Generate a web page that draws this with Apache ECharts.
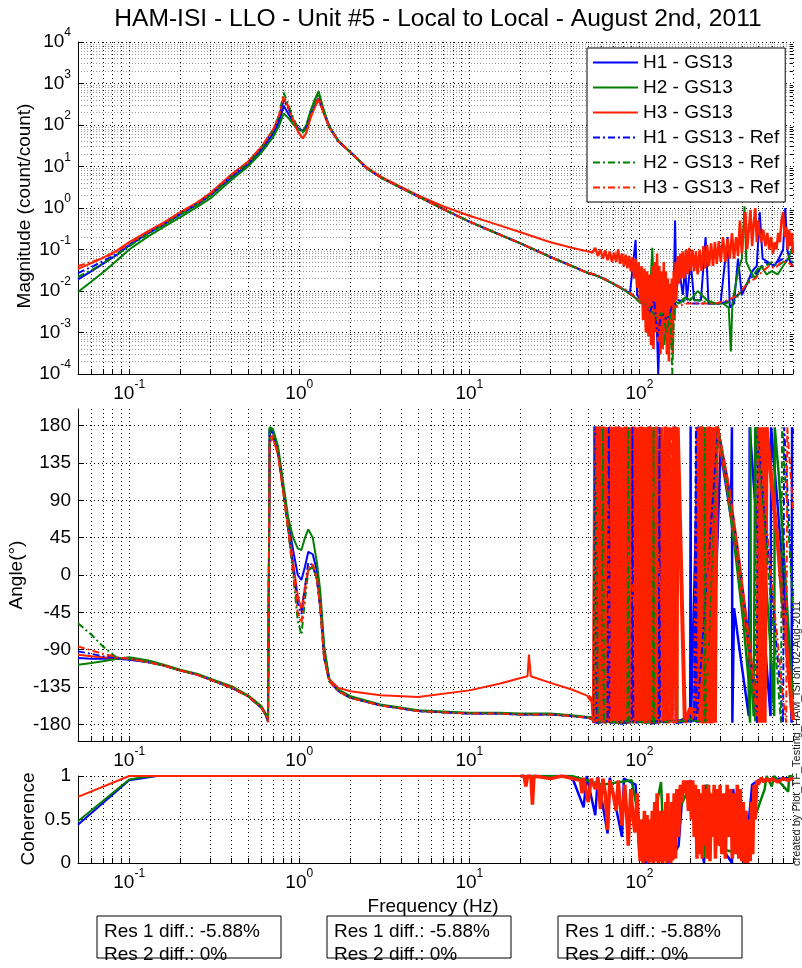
<!DOCTYPE html>
<html>
<head>
<meta charset="utf-8">
<title>HAM-ISI - LLO - Unit #5 - Local to Local</title>
<script src="https://cdn.jsdelivr.net/npm/echarts@6/dist/echarts.min.js"></script>
<style>
  html, body { margin: 0; padding: 0; background: #fff; }
  #chart { width: 802px; height: 968px; }
</style>
</head>
<body>
<div id="chart"></div>
<script>
// ---- data ----
const seriesNames = ["H1 - GS13", "H2 - GS13", "H3 - GS13", "H1 - GS13 - Ref", "H2 - GS13 - Ref", "H3 - GS13 - Ref"];

const xMajorTicks = [0.1, 1, 10, 100];
const magMajorTicks = [1e-4, 1e-3, 1e-2, 1e-1, 1, 10, 100, 1000, 1e4];
const phaseTicks = [-180, -135, -90, -45, 0, 45, 90, 135, 180];
const cohTicks = [0, 0.5, 1];
const minorSteps = [1, 2, 3, 4, 5, 6, 7, 8, 9];

// magnitude, smooth part (count/count)
const freqMag = [0.05, 0.06, 0.07, 0.085, 0.1, 0.13, 0.16, 0.2, 0.25, 0.3, 0.4, 0.5, 0.6, 0.7, 0.76, 0.81, 0.86, 0.92, 0.98, 1.05, 1.1, 1.16, 1.23, 1.3, 1.38, 1.5, 1.7, 2, 2.5, 3, 4, 5, 7, 10, 14, 20, 30, 40, 50];
const magH1 = [0.019, 0.03, 0.045, 0.075, 0.125, 0.25, 0.4, 0.7, 1.2, 2.0, 5.5, 11, 25, 60, 120, 290, 190, 120, 85, 72, 90, 170, 280, 420, 220, 90, 40, 22, 9, 5.5, 3.0, 1.9, 0.95, 0.47, 0.26, 0.14, 0.066, 0.04, 0.027];
const magH2 = [0.0095, 0.017, 0.028, 0.055, 0.1, 0.21, 0.35, 0.6, 1.05, 1.7, 4.8, 10, 22, 50, 95, 190, 150, 105, 80, 72, 100, 210, 400, 650, 260, 95, 42, 22, 9, 5.5, 3.0, 1.9, 0.95, 0.47, 0.26, 0.14, 0.066, 0.04, 0.027];
const magH3 = [0.034, 0.047, 0.063, 0.095, 0.15, 0.28, 0.45, 0.8, 1.35, 2.3, 6.5, 13, 30, 75, 160, 430, 280, 130, 70, 47, 65, 140, 260, 400, 210, 88, 40, 22, 9.5, 5.8, 3.2, 2.0, 1.1, 0.65, 0.42, 0.26, 0.15, 0.11, 0.09];
const magH1Ref = [0.027, 0.038, 0.052, 0.08, 0.13, 0.25, 0.41, 0.72, 1.25, 2.1, 6, 12, 28, 70, 150, 400, 260, 140, 85, 70, 85, 170, 300, 480, 230, 90, 40, 22, 9, 5.5, 3.0, 1.9, 0.95, 0.47, 0.26, 0.14, 0.066, 0.04, 0.027];
const magH2Ref = [0.022, 0.032, 0.046, 0.075, 0.12, 0.24, 0.4, 0.7, 1.2, 2.0, 5.8, 12, 28, 72, 170, 600, 320, 150, 85, 65, 85, 190, 350, 580, 250, 92, 41, 22, 9, 5.5, 3.0, 1.9, 0.95, 0.47, 0.26, 0.14, 0.066, 0.04, 0.027];
const magH3Ref = [0.04, 0.05, 0.062, 0.09, 0.14, 0.27, 0.43, 0.78, 1.3, 2.2, 6.3, 13, 30, 75, 170, 500, 290, 135, 72, 48, 66, 150, 280, 450, 220, 90, 40, 22, 9, 5.5, 3.0, 1.9, 0.95, 0.47, 0.26, 0.14, 0.066, 0.04, 0.027];

// magnitude, noisy part [Hz, value]
const magNoiseH1 = [[55,0.024],[60,0.021],[66,0.017],[72,0.014],[80,0.011],[88,0.009],[95,0.17],[97,0.008],[103,0.006],[108,0.012],[112,0.004],[117,0.02],[121,0.002],[125,0.008],[129,0.0001],[133,0.003],[138,0.009],[143,0.0007],[148,0.004],[154,0.012],[159,0.006],[162,0.5],[165,0.01],[172,0.03],[180,0.008],[186,0.04],[190,0.006],[200,0.05],[210,0.006],[230,0.006],[245,0.2],[255,0.005],[275,0.005],[300,0.005],[330,0.2],[340,0.004],[360,0.005],[380,0.06],[400,0.008],[430,0.015],[460,0.03],[490,0.04],[510,0.8],[530,0.06],[570,0.05],[620,0.04],[660,0.06],[700,0.1],[720,1.0],[740,0.1],[770,0.05],[800,0.04]];
const magNoiseH2 = [[55,0.024],[62,0.019],[70,0.015],[78,0.012],[86,0.009],[94,0.007],[102,0.005],[108,0.008],[114,0.003],[119,0.11],[123,0.003],[128,0.0009],[134,0.004],[140,0.0005],[146,0.002],[152,0.004],[160,0.006],[170,0.005],[185,0.007],[200,0.006],[220,0.01],[250,0.006],[280,0.005],[310,0.005],[335,0.004],[345,0.00035],[352,0.005],[380,0.03],[400,0.06],[415,1.1],[425,0.05],[450,0.03],[480,0.02],[520,0.04],[560,0.025],[600,0.03],[650,0.025],[700,0.04],[750,0.06],[800,0.12]];
const magNoiseH3 = [[53,0.085],[55,0.11],[57,0.07],[59,0.1],[61,0.06],[63,0.095],[65,0.055],[67,0.09],[69,0.05],[71,0.085],[73,0.05],[75,0.1],[77,0.045],[79,0.08],[81,0.04],[83,0.075],[85,0.035],[87,0.07],[89,0.03],[91,0.065],[93,0.02],[95,0.06],[97,0.012],[99,0.05],
  [101,0.005],[103,0.04],[105,0.002],[107,0.035],[109,0.001],[111,0.03],[113,0.0008],[115,0.025],[117,0.0005],[119,0.04],[121,0.0004],[123,0.05],[125,0.001],[127,0.08],[129,0.0006],[131,0.04],[133,0.0003],[135,0.03],[137,0.0004],[139,0.05],[141,0.001],[143,0.03],[145,0.0003],[147,0.02],[149,0.0002],[151,0.015],[153,0.0005],[155,0.02],[157,0.0003],[159,0.03],[161,0.002],[163,0.05],[165,0.006],
  [168,0.07],[171,0.015],[174,0.08],[177,0.02],[180,0.09],[184,0.02],[188,0.1],[192,0.025],[196,0.11],[200,0.03],[205,0.1],[210,0.03],[215,0.09],[220,0.025],[226,0.1],[232,0.03],[238,0.12],[244,0.035],[250,0.13],[257,0.04],[264,0.14],[271,0.04],[278,0.15],[285,0.045],[293,0.16],[301,0.05],[310,0.2],[320,0.05],[330,0.18],[340,0.06],[350,0.25],[360,0.06],[370,0.2],[380,0.07],[390,0.5],[400,0.08],[410,0.3],[420,0.8],[430,0.1],[440,0.3],[450,0.9],[460,0.12],[470,0.4],[480,1.0],[490,0.15],[500,0.5],[510,0.25],[520,0.15],[535,0.3],[550,0.12],[565,0.25],[580,0.1],[595,0.2],[610,0.08],[625,0.15],[640,0.1],[655,0.25],[670,0.15],[685,0.5],[700,0.8],[715,0.2],[730,0.35],[745,0.1],[760,0.3],[775,0.12],[790,0.25],[800,0.08]];
const magNoiseH1Ref = [[55,0.025],[65,0.018],[75,0.013],[85,0.01],[95,0.007],[105,0.005],[115,0.003],[122,0.006],[128,0.0008],[135,0.003],[145,0.002],[155,0.004],[170,0.006],[200,0.005],[250,0.005],[300,0.005],[350,0.006],[400,0.01],[450,0.02],[500,0.03],[550,0.05],[600,0.04],[650,0.05],[700,0.06],[750,0.05],[800,0.05]];
const magNoiseH2Ref = [[55,0.025],[65,0.018],[75,0.013],[85,0.01],[95,0.007],[105,0.005],[115,0.004],[125,0.002],[135,0.003],[145,0.001],[152,0.003],[156,0.0001],[160,0.004],[180,0.006],[220,0.006],[270,0.005],[320,0.005],[360,0.006],[400,0.01],[450,0.02],[500,0.035],[550,0.04],[600,0.05],[650,0.04],[700,0.05],[750,0.06],[800,0.05]];
const magNoiseH3Ref = [[55,0.025],[65,0.018],[75,0.013],[85,0.01],[95,0.007],[105,0.005],[115,0.003],[125,0.002],[135,0.002],[145,0.003],[160,0.004],[190,0.005],[230,0.005],[280,0.005],[330,0.006],[380,0.008],[430,0.015],[480,0.02],[530,0.03],[580,0.04],[630,0.035],[680,0.05],[740,0.05],[800,0.04]];

// phase, smooth part (degrees)
const freqPh = [0.05, 0.06, 0.07, 0.085, 0.1, 0.13, 0.16, 0.2, 0.25, 0.3, 0.4, 0.5, 0.6, 0.64, 0.655, 0.67, 0.7, 0.75, 0.8, 0.86, 0.92, 0.98, 1.03, 1.08, 1.13, 1.2, 1.27, 1.33, 1.4, 1.5, 1.7, 2, 3, 5, 10, 15, 20, 22, 22.4, 23, 30, 40, 50];
const phH1 = [-100, -101, -101, -101, -102, -105, -109, -115, -120, -126, -136, -146, -160, -170, -177, 176, 172, 150, 108, 65, 30, 0, -6, 10, 28, 25, 5, -30, -90, -125, -140, -148, -157, -164, -167, -167, -168, -168, -168, -168, -168, -170, -172];
const phH2 = [-108, -106, -104, -101, -99, -103, -108, -114, -119, -125, -134, -145, -158, -168, -176, 178, 176, 155, 115, 70, 45, 32, 30, 45, 55, 45, 15, -20, -85, -125, -138, -146, -156, -163, -166, -166, -167, -167, -167, -167, -167, -169, -171];
const phH3 = [-96, -98, -99, -100, -101, -105, -109, -115, -120, -126, -135, -146, -160, -170, -176, 160, 165, 145, 105, 60, 15, -25, -42, -15, 5, 11, -5, -40, -100, -126, -136, -140, -145, -147, -139, -131, -124, -122, -96, -122, -130, -138, -146];
const phH1Ref = [-92, -95, -98, -100, -101, -105, -109, -115, -120, -126, -136, -146, -160, -170, -177, 175, 170, 148, 105, 55, 10, -35, -47, -15, 15, 12, -5, -40, -100, -128, -140, -148, -157, -164, -167, -167, -168, -168, -168, -168, -168, -170, -172];
const phH2Ref = [-58, -72, -86, -100, -101, -105, -109, -115, -120, -126, -136, -146, -160, -170, -177, 178, 174, 152, 108, 55, 0, -55, -72, -30, 5, 10, -5, -40, -100, -128, -140, -148, -157, -164, -167, -167, -168, -168, -168, -168, -168, -170, -172];
const phH3Ref = [-86, -91, -95, -99, -101, -105, -109, -115, -120, -126, -136, -146, -160, -170, -177, 165, 168, 146, 104, 55, 5, -45, -58, -20, 8, 13, -3, -40, -100, -128, -140, -148, -157, -164, -167, -167, -168, -168, -168, -168, -168, -170, -172];

// phase, noisy part [Hz, degrees]
const phNoiseH1 = [[53,-173],[54,-178],[54.5,179],[55.2,-179],[56,178],[56.8,-178],[58,-176],[75,-174],[76,179],[77,-179],[100,-176],[116,179],[117,-179],[140,-176],[162,179],[164,-178],[199,-176],[200,179],[201,-178],[222,179],[224,-178],[262,178],[264,-177],[300,150],[345,70],[350,178],[352,-178],[360,-40],[400,-110],[440,-170],[445,178],[470,110],[500,40],[530,-40],[560,-110],[590,-170],[595,178],[640,100],[700,0],[760,-100],[785,-178],[790,178],[800,170]];
const phNoiseH2 = [[53,-172],[54,-177],[56,178],[57,-178],[58.5,179],[60,-178],[61,178],[62,-177],[70,-176],[71,178],[72,-178],[105,-176],[106,178],[107,-178],[140,-176],[165,178],[167,-178],[185,-172],[230,-176],[232,179],[234,-178],[288,178],[330,100],[370,20],[410,-60],[440,-130],[447,-178],[449,178],[452,-100],[470,-170],[480,178],[520,80],[560,-20],[600,-110],[620,-170],[625,178],[660,120],[700,40],[750,-60],[800,-150]];
const phNoiseH3 = [[53,-152],[54,-178],[55,178],[56.5,-179],[58,179],[59.5,-178],[61,179],[62.5,-179],[64,178],[65.7,-178],[67.4,179],[69,-179],[71,178],[73,-178],[75,179],[77,-179],[79,178],[81,-178],[83,179],[85,-179],[87.5,178],[90,-178],[92.5,179],[95,-179],[97.5,178],[100,-178],[102.5,179],[105,-179],[108,178],[111,-178],[114,179],[117,-179],[120,178],[123,-178],[126,179],[130,-179],[134,178],[138,-178],[142,179],[146,-179],[150,178],[155,-178],[160,179],[165,-178],[168,178],[185,-178],[200,-160],[212,-176],[220,178],[226,-178],[232,179],[238,-179],[244,178],[250,-178],[257,179],[264,-179],[271,178],[278,-178],[285,179],[292,178],[330,110],[370,40],[420,-50],[460,-120],[500,-178],[505,178],[512,-178],[520,178],[528,-178],[536,178],[545,-178],[560,178],[600,110],[650,40],[700,-40],[750,-110],[800,-175]];
const phNoiseH1Ref = [[53,-174],[54,-178],[55,179],[56,-178],[65,-176],[66,178],[67,-178],[90,-176],[91,178],[92,-178],[130,-176],[131,178],[132,-178],[170,-175],[210,-176],[215,178],[217,-178],[290,178],[350,80],[400,-10],[450,-100],[490,-178],[495,178],[540,80],[600,-20],[650,-100],[700,-178],[710,178],[760,60],[800,-30]];
const phNoiseH2Ref = [[53,-174],[54.5,-178],[55.5,179],[57,-178],[60,-176],[61,178],[62,-178],[85,-176],[86,178],[87,-178],[120,-176],[121,178],[122,-178],[160,-176],[240,-176],[242,178],[245,-178],[290,178],[340,90],[390,0],[440,-90],[480,-178],[485,178],[530,90],[580,-10],[630,-90],[680,-178],[690,178],[740,80],[800,-40]];
const phNoiseH3Ref = [[53,-174],[55,-178],[56,179],[60,-178],[64,179],[68,-178],[72,179],[110,-178],[114,179],[150,-178],[155,179],[158,-178],[200,-170],[250,-178],[252,178],[254,-178],[290,178],[340,100],[390,10],[440,-80],[490,-170],[497,178],[545,90],[600,-10],[650,-80],[700,-150],[730,-178],[740,178],[800,80]];

// coherence
const freqCoh = [0.05, 0.1, 0.12, 0.145, 1, 10, 20];
const cohH1 = [0.44, 0.95, 0.975, 1, 1, 1, 1];
const cohH2 = [0.48, 0.96, 0.985, 1, 1, 1, 1];
const cohH3 = [0.76, 1, 1, 1, 1, 1, 1];
const cohNoiseH1 = [[40,1],[47,0.64],[49,1],[55,0.55],[57,0.99],[65,0.34],[67,0.98],[79,0.3],[81,0.97],[95,0.9],[100,0.1],[110,0.0],[130,0.1],[150,0.0],[170,0.2],[180,0.85],[200,0.95],[240,0.0],[245,0.9],[300,0.2],[350,0.0],[355,0.85],[420,0.05],[460,0.9],[500,0.95],[800,0.98]];
const cohNoiseH2 = [[40,1],[60,0.9],[90,0.95],[110,0.05],[134,0.93],[140,0.05],[170,0.6],[200,0.9],[240,0.06],[250,0.9],[320,0.15],[400,0.1],[545,0.85],[560,1],[600,0.88],[620,1],[750,0.82],[760,1],[800,1]];
const cohNoiseH3 = [[21,1],[21.5,0.88],[22,1],[23,1],[23.5,0.67],[24,1],[30,0.97],[35,1],[45,0.95],[46,0.8],[47,0.98],[50,0.7],[52,0.97],[55,0.85],[57,0.98],[59,0.62],[61,0.97],[63,0.8],[65,0.38],[67,0.95],[70,0.8],[73,0.6],[75,0.95],[77,0.7],[79,0.43],[82,0.9],[84,0.6],[86,0.2],[89,0.85],[92,0.5],[94,0.35],[97,0.8],[99,0.3],
  [101,0.02],[103,0.5],[105,0.0],[107,0.6],[109,0.02],[111,0.55],[113,0.0],[115,0.5],[117,0.01],[119,0.6],[121,0.0],[123,0.7],[125,0.02],[127,0.8],[129,0.0],[131,0.6],[133,0.01],[135,0.5],[137,0.0],[139,0.6],[141,0.02],[143,0.7],[145,0.0],[147,0.8],[149,0.02],[151,0.6],[153,0.0],[155,0.7],[157,0.03],[160,0.8],[163,0.05],[166,0.85],[170,0.3],[174,0.9],[178,0.7],[182,0.95],[186,0.8],[190,0.95],[194,0.6],[198,0.95],
  [202,0.5],[206,0.95],[210,0.3],[214,0.9],[218,0.05],[222,0.85],[226,0.1],[230,0.8],[234,0.05],[238,0.9],[242,0.2],[246,0.85],[250,0.05],[255,0.9],[260,0.02],[265,0.8],[270,0.3],[275,0.9],[280,0.05],[286,0.85],[292,0.2],[298,0.9],[305,0.1],[312,0.8],[320,0.05],[328,0.9],[336,0.3],[344,0.85],[352,0.05],[360,0.8],[368,0.1],[376,0.9],[384,0.05],[392,0.85],[400,0.02],[408,0.7],[416,0.0],[424,0.6],[432,0.0],[440,0.5],[448,0.02],[456,0.7],[464,0.1],[472,0.9],[480,0.5],[490,0.95],[500,0.9],[520,0.98],[540,0.93],[560,0.97],[580,0.94],[600,0.97],[650,0.93],[700,0.97],[750,0.95],[800,0.98]];

// ---- styling ----
const FONT = "'Liberation Sans', Arial, Helvetica, sans-serif";
const colors = ["#0000ff", "#008000", "#ff2000", "#0000ff", "#008000", "#ff2000"];
const DASHDOT = [7, 3, 2, 3];
const X_MIN = 0.05, X_MAX = 800;
const left = 78, plotW = 715;
// line widths of the noisy (high frequency) parts, per series, per panel
const noiseWidthMag = [2, 2, 2.5, 2, 2, 2];
const noiseWidthPh = [2.5, 2.5, 4, 2, 2, 2];
const noiseWidthCoh = [2.5, 2.5, 3.5];

const xAllTicks = [];
[0.01, 0.1, 1, 10, 100].forEach(d => minorSteps.forEach(m => {
  const v = +(d * m).toPrecision(3);
  if (v >= X_MIN && v <= X_MAX) xAllTicks.push(v);
}));
const magMinorTicks = [];
magMajorTicks.slice(0, -1).forEach(d => minorSteps.slice(1).forEach(m => magMinorTicks.push(+(d * m).toPrecision(3))));

const supLabel = v => "{b|10}{s|" + Math.round(Math.log10(v)) + "}";
const supRich = {
  b: { fontSize: 19, fontFamily: FONT, color: "#000", lineHeight: 30, verticalAlign: "middle" },
  s: { fontSize: 12, fontFamily: FONT, color: "#000", lineHeight: 13, verticalAlign: "top" }
};
const dotted = { type: [1, 3], color: "#000", width: 1 };

function xAxisFor(gridIndex) {
  return {
    type: "log", logBase: 10, gridIndex, min: X_MIN, max: X_MAX,
    axisLine: { show: true, onZero: false, lineStyle: { color: "#000", width: 1 } },
    axisTick: { show: true, inside: true, length: 5, customValues: xAllTicks, lineStyle: { color: "#000" } },
    axisLabel: { customValues: xMajorTicks, formatter: supLabel, rich: supRich, margin: 5 },
    splitLine: { show: true, lineStyle: dotted }
  };
}

function plainLabel(fmt) {
  return { fontSize: 19, fontFamily: FONT, color: "#000", margin: 7, formatter: fmt };
}

const pairs = (xs, ys) => xs.map((x, i) => [x, ys[i]]);

const magSmooth = [magH1, magH2, magH3, magH1Ref, magH2Ref, magH3Ref];
const magNoise = [magNoiseH1, magNoiseH2, magNoiseH3, magNoiseH1Ref, magNoiseH2Ref, magNoiseH3Ref];
const phSmooth = [phH1, phH2, phH3, phH1Ref, phH2Ref, phH3Ref];
const phNoise = [phNoiseH1, phNoiseH2, phNoiseH3, phNoiseH1Ref, phNoiseH2Ref, phNoiseH3Ref];
const cohSmooth = [cohH1, cohH2, cohH3];
const cohNoise = [cohNoiseH1, cohNoiseH2, cohNoiseH3];

function lineSeries(k, gridIndex, yAxisIndex, data, width) {
  return {
    name: seriesNames[k], type: "line", xAxisIndex: gridIndex, yAxisIndex, data,
    symbol: "none", showSymbol: false, silent: true, clip: true, z: 3,
    color: colors[k],
    lineStyle: { width, color: colors[k], type: k < 3 ? "solid" : DASHDOT }
  };
}

// smooth part and the noisy tail of every trace; the tail starts from the last smooth point
function addPanel(out, freq, smooth, noise, widths, gridIndex, yAxisIndex) {
  const smoothSets = smooth.map(vals => pairs(freq, vals));
  smoothSets.forEach((d, k) => out.push(lineSeries(k, gridIndex, yAxisIndex, d, 2)));
  noise.forEach((d, k) => {
    const last = smoothSets[k][smoothSets[k].length - 1];
    out.push(lineSeries(k, gridIndex, yAxisIndex, [last].concat(d.filter(p => p[0] > last[0])), widths[k]));
  });
}

const series = [];
addPanel(series, freqMag, magSmooth, magNoise, noiseWidthMag, 0, 0);
addPanel(series, freqPh, phSmooth, phNoise, noiseWidthPh, 1, 2);
addPanel(series, freqCoh, cohSmooth, cohNoise, noiseWidthCoh, 2, 3);

function vText(text, x, y, size) {
  return { type: "text", x, y, rotation: Math.PI / 2, style: { text, fontSize: size, fontFamily: FONT, fill: "#000", align: "center", verticalAlign: "middle" } };
}

const boxes = [97, 327, 558].flatMap(bx => [
  { type: "rect", shape: { x: bx, y: 916, width: 184, height: 42 }, style: { fill: "#fff", stroke: "#000", lineWidth: 1 } },
  { type: "text", x: bx + 7, y: 932, style: { text: "Res 1 diff.: -5.88%", fontSize: 19, fontFamily: FONT, fill: "#000", align: "left", verticalAlign: "middle" } },
  { type: "text", x: bx + 7, y: 955, style: { text: "Res 2 diff.: 0%", fontSize: 19, fontFamily: FONT, fill: "#000", align: "left", verticalAlign: "middle" } }
]);

const chart = echarts.init(document.getElementById("chart"), null, { renderer: "canvas" });
chart.setOption({
  animation: false,
  backgroundColor: "#fff",
  textStyle: { fontFamily: FONT },
  grid: [
    { left, width: plotW, top: 42, height: 332 },
    { left, width: plotW, top: 409, height: 332 },
    { left, width: plotW, top: 776, height: 87 }
  ],
  xAxis: [xAxisFor(0), xAxisFor(1), xAxisFor(2)],
  yAxis: [
    {
      type: "log", logBase: 10, gridIndex: 0, min: 1e-4, max: 1e4,
      axisLine: { show: true, onZero: false, lineStyle: { color: "#000" } },
      axisTick: { show: true, inside: true, length: 6, customValues: magMajorTicks, lineStyle: { color: "#000" } },
      axisLabel: { customValues: magMajorTicks, formatter: supLabel, rich: supRich, margin: 7 },
      splitLine: { show: true, lineStyle: dotted }
    },
    {
      type: "log", logBase: 10, gridIndex: 0, min: 1e-4, max: 1e4,
      axisLine: { show: false },
      axisTick: { show: true, inside: true, length: 3, customValues: magMinorTicks, lineStyle: { color: "#000" } },
      axisLabel: { show: false },
      splitLine: { show: true, lineStyle: { type: [1, 2], color: "#999", width: 1 } }
    },
    {
      type: "value", gridIndex: 1, min: -200, max: 200,
      axisLine: { show: true, onZero: false, lineStyle: { color: "#000" } },
      axisTick: { show: true, inside: true, length: 6, customValues: phaseTicks, lineStyle: { color: "#000" } },
      axisLabel: Object.assign(plainLabel(v => String(v)), { customValues: phaseTicks }),
      splitLine: { show: true, lineStyle: dotted }
    },
    {
      type: "value", gridIndex: 2, min: 0, max: 1,
      axisLine: { show: true, onZero: false, lineStyle: { color: "#000" } },
      axisTick: { show: true, inside: true, length: 6, customValues: cohTicks, lineStyle: { color: "#000" } },
      axisLabel: Object.assign(plainLabel(v => String(v)), { customValues: cohTicks }),
      splitLine: { show: true, lineStyle: dotted }
    }
  ],
  legend: {
    orient: "vertical", left: 587, top: 48,
    data: seriesNames, selectedMode: false,
    itemWidth: 45, itemHeight: 14, itemGap: 6,
    padding: [5, 6, 5, 5],
    itemStyle: { opacity: 0 },
    lineStyle: { width: 2 },
    backgroundColor: "#fff", borderColor: "#000", borderWidth: 1, borderRadius: 0,
    textStyle: { fontFamily: FONT, fontSize: 19, color: "#000", lineHeight: 19 }
  },
  graphic: [
    { type: "text", x: 438, y: 19, style: { text: "HAM-ISI - LLO - Unit #5 - Local to Local - August 2nd, 2011", fontSize: 24.6, fontFamily: FONT, fill: "#000", align: "center", verticalAlign: "middle" } },
    vText("Magnitude (count/count)", 25, 206, 19),
    vText("Angle(\u00B0)", 17, 575, 19),
    vText("Coherence", 29, 819, 19),
    { type: "text", x: 433, y: 907, style: { text: "Frequency (Hz)", fontSize: 19, fontFamily: FONT, fill: "#000", align: "center", verticalAlign: "middle" } },
    { type: "text", x: 797, y: 866, rotation: Math.PI / 2, style: { text: "created by Plot_TF_Testing_HAM_ISI on 02-Aug-2011", fontSize: 11, fontFamily: FONT, fill: "#222", align: "left", verticalAlign: "middle" } },
    ...boxes
  ],
  series
});
window.addEventListener("resize", () => chart.resize());
</script>
</body>
</html>
